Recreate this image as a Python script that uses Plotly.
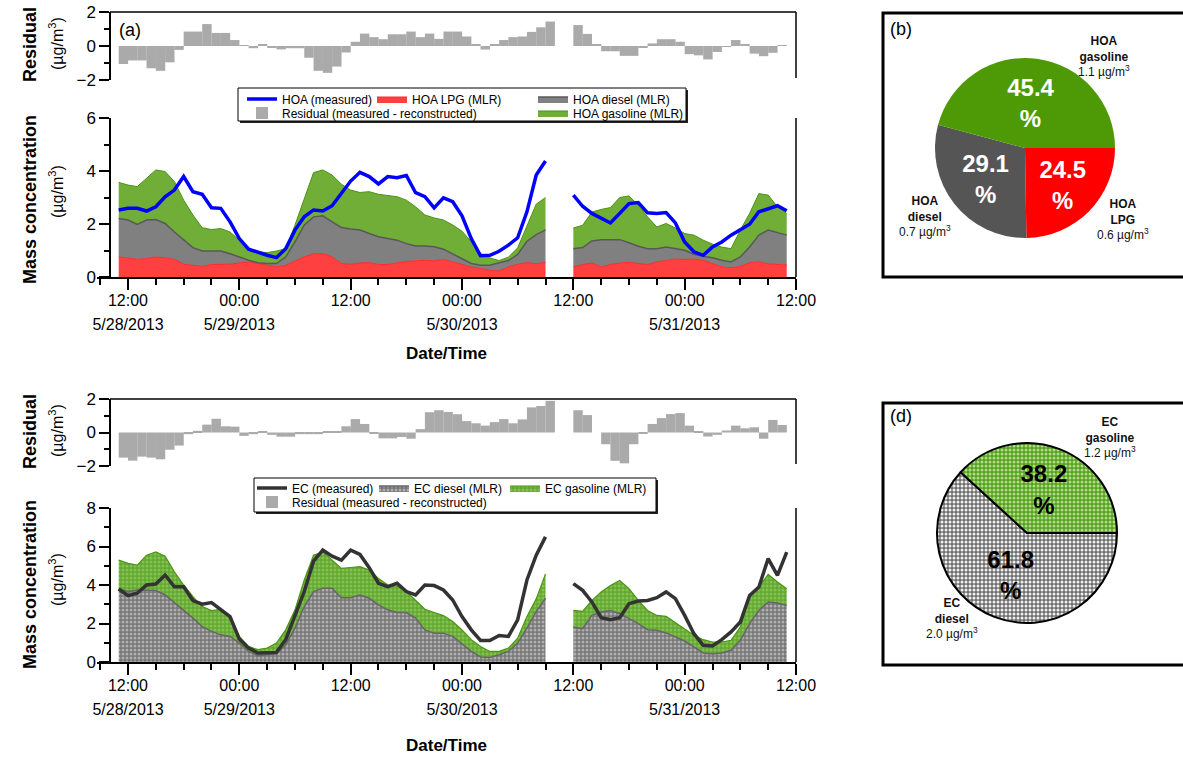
import pandas as pd
import plotly.graph_objects as go

W, H = 1183, 757
FONT = "Liberation Sans, Arial, sans-serif"

# ---------------- data ----------------
t_seg1 = pd.date_range("2013-05-28 11:00", periods=47, freq="h")
t_seg2 = pd.date_range("2013-05-30 12:00", periods=24, freq="h")
t_res2 = t_seg2[:23]

tick_times = pd.date_range("2013-05-28 12:00", periods=7, freq="12h")
tick_labels = [["12:00", "5/28/2013"], ["00:00", "5/29/2013"], ["12:00"],
               ["00:00", "5/30/2013"], ["12:00"], ["00:00", "5/31/2013"], ["12:00"]]

# HOA panel (a) -- segment 1 (stack tops)
hoa_measured_1 = [2.53, 2.59, 2.59, 2.49, 2.65, 3.03, 3.28, 3.79, 3.22, 3.12, 2.61, 2.59, 2.08, 1.45,
                  1.05, 0.92, 0.82, 0.73, 1.07, 1.77, 2.27, 2.53, 2.49, 2.69, 3.16, 3.62, 3.95, 3.79,
                  3.51, 3.79, 3.75, 3.83, 3.18, 3.03, 2.61, 2.99, 2.84, 2.31, 1.45, 0.80, 0.82, 0.97,
                  1.20, 1.48, 2.46, 3.85, 4.38]
hoa_gasoline_top_1 = [3.57, 3.47, 3.41, 3.72, 4.04, 3.98, 3.60, 2.90, 2.34, 1.86, 1.79, 1.83, 1.70, 1.39,
                      1.07, 0.95, 0.92, 0.98, 1.07, 1.96, 2.97, 3.94, 4.04, 3.85, 3.50, 3.28, 3.19, 3.22,
                      3.12, 3.07, 3.03, 2.90, 2.65, 2.34, 2.23, 2.15, 1.96, 1.73, 1.33, 0.88, 0.72, 0.62,
                      0.75, 1.10, 1.90, 2.75, 3.00]
hoa_diesel_top_1 = [2.21, 2.15, 1.98, 2.15, 2.17, 2.02, 1.70, 1.39, 1.11, 0.98, 0.97, 0.98, 0.88, 0.76,
                    0.63, 0.54, 0.51, 0.51, 0.76, 1.33, 1.96, 2.27, 2.31, 2.08, 1.87, 1.81, 1.77, 1.64,
                    1.52, 1.45, 1.39, 1.26, 1.17, 1.17, 1.14, 1.05, 0.88, 0.69, 0.51, 0.44, 0.44, 0.54,
                    0.62, 0.85, 1.35, 1.60, 1.78]
hoa_lpg_1 = [0.76, 0.72, 0.67, 0.69, 0.76, 0.72, 0.67, 0.48, 0.44, 0.40, 0.47, 0.47, 0.48, 0.53,
             0.57, 0.51, 0.44, 0.38, 0.44, 0.61, 0.76, 0.88, 0.88, 0.76, 0.51, 0.48, 0.53, 0.54,
             0.47, 0.47, 0.54, 0.59, 0.61, 0.63, 0.61, 0.66, 0.57, 0.47, 0.38, 0.32, 0.25, 0.23,
             0.38, 0.48, 0.54, 0.50, 0.55]
hoa_residual_1 = [-1.06, -0.85, -0.85, -1.31, -1.46, -0.96, -0.23, 0.85, 0.85, 1.29, 0.77, 0.77, 0.35, 0.04,
                  -0.13, 0.08, -0.10, -0.20, -0.13, -0.13, -0.69, -1.46, -1.58, -1.21, -0.38, 0.25, 0.73,
                  0.52, 0.40, 0.69, 0.69, 0.85, 0.52, 0.73, 0.42, 0.85, 0.85, 0.56, 0.10, -0.21, 0.10,
                  0.35, 0.52, 0.56, 0.83, 1.10, 1.44]
# HOA panel (a) -- segment 2
hoa_measured_2 = [3.09, 2.67, 2.40, 2.21, 2.04, 2.40, 2.77, 2.81, 2.42, 2.40, 2.43, 2.04, 1.32, 0.95,
                  0.82, 1.13, 1.32, 1.58, 1.77, 1.99, 2.46, 2.59, 2.69, 2.50]
hoa_gasoline_top_2 = [1.85, 1.95, 2.45, 2.55, 2.62, 3.00, 3.06, 2.71, 2.27, 1.89, 2.02, 1.85, 1.64, 1.58,
                      1.39, 1.24, 1.13, 1.07, 1.77, 2.40, 3.15, 3.09, 2.65, 2.40]
hoa_diesel_top_2 = [1.07, 1.11, 1.36, 1.41, 1.41, 1.41, 1.29, 1.16, 1.07, 1.07, 1.13, 1.07, 1.01, 0.86,
                    0.78, 0.73, 0.63, 0.57, 0.76, 1.13, 1.58, 1.77, 1.68, 1.58]
hoa_lpg_2 = [0.38, 0.47, 0.53, 0.38, 0.47, 0.53, 0.55, 0.50, 0.47, 0.57, 0.63, 0.68, 0.66, 0.68,
             0.63, 0.50, 0.38, 0.35, 0.40, 0.54, 0.57, 0.50, 0.47, 0.45]
hoa_residual_2 = [1.23, 0.71, 0.10, -0.31, -0.31, -0.58, -0.58, -0.06, 0.15, 0.40, 0.40, 0.25, -0.48,
                  -0.55, -0.79, -0.35, -0.05, 0.35, 0.10, -0.45, -0.60, -0.40, 0.05]

# EC panel -- segment 1
ec_measured_1 = [3.79, 3.45, 3.57, 4.00, 4.05, 4.52, 3.91, 3.91, 3.19, 3.00, 3.09, 2.74, 2.36, 1.19,
                 0.72, 0.47, 0.50, 0.50, 1.16, 2.36, 3.66, 5.24, 5.81, 5.50, 5.29, 5.81, 5.59, 4.90,
                 4.09, 3.91, 4.09, 3.66, 3.48, 4.00, 3.97, 3.74, 3.22, 2.36, 1.67, 1.12, 1.12, 1.38,
                 1.33, 2.19, 4.26, 5.55, 6.50]
ec_gasoline_top_1 = [5.29, 5.12, 5.03, 5.55, 5.72, 5.50, 4.69, 4.00, 3.40, 2.88, 2.67, 2.74, 2.36, 1.33,
                     0.81, 0.64, 0.72, 0.98, 1.67, 2.71, 4.26, 5.55, 5.72, 5.29, 4.86, 4.91, 4.95, 4.78,
                     4.34, 4.00, 3.95, 3.66, 3.19, 2.74, 2.57, 2.41, 2.10, 1.67, 1.16, 0.81, 0.55, 0.55,
                     0.72, 1.24, 2.36, 3.28, 4.57]
ec_diesel_top_1 = [3.79, 3.66, 3.74, 3.74, 3.71, 3.48, 3.09, 2.71, 2.28, 1.84, 1.59, 1.41, 1.33, 0.98,
                   0.55, 0.33, 0.38, 0.43, 0.90, 1.76, 2.88, 3.66, 3.83, 3.83, 3.34, 3.34, 3.48, 3.31,
                   2.97, 2.71, 2.57, 2.57, 2.28, 1.67, 1.50, 1.50, 1.33, 0.95, 0.55, 0.26, 0.24, 0.38,
                   0.55, 0.98, 1.76, 2.62, 3.31]
ec_residual_1 = [-1.50, -1.68, -1.44, -1.50, -1.60, -1.03, -0.78, -0.10, 0.10, 0.47, 0.82, 0.37, 0.35,
                 -0.20, -0.10, 0.06, -0.14, -0.25, -0.25, -0.10, -0.10, -0.10, 0.06, 0.04, 0.37, 0.80,
                 0.51, -0.06, -0.35, -0.35, -0.27, -0.37, 0.20, 1.21, 1.33, 1.23, 1.09, 0.68, 0.55,
                 0.41, 0.62, 0.80, 0.55, 0.78, 1.50, 1.58, 1.89]
# EC panel -- segment 2
ec_measured_2 = [4.07, 3.72, 3.12, 2.30, 2.20, 2.30, 3.03, 3.17, 3.20, 3.34, 3.64, 3.29, 2.42, 1.47,
                 0.87, 0.83, 1.16, 1.56, 2.08, 3.46, 3.90, 5.37, 4.50, 5.71]
ec_gasoline_top_2 = [2.68, 2.63, 3.20, 3.64, 3.98, 4.24, 3.81, 3.20, 2.68, 2.42, 2.37, 2.03, 1.73, 1.39,
                     1.16, 1.04, 1.04, 1.13, 1.82, 3.38, 3.90, 4.55, 4.16, 3.81]
ec_diesel_top_2 = [1.82, 1.73, 2.42, 2.60, 2.68, 2.51, 2.25, 1.99, 1.68, 1.65, 1.51, 1.30, 1.09, 0.78,
                   0.47, 0.43, 0.47, 0.61, 1.13, 1.99, 2.68, 3.12, 3.06, 2.94]
ec_residual_2 = [1.33, 1.04, 0.00, -0.70, -1.69, -1.84, -0.70, -0.08, 0.51, 0.86, 1.10, 1.16, 0.41,
                 0.08, -0.24, -0.14, 0.12, 0.41, 0.25, 0.31, -0.37, 0.75, 0.45]

# pies
pie_b_names = [["HOA", "LPG"], ["HOA", "diesel"], ["HOA", "gasoline"]]
pie_b_pct = [24.5, 29.1, 45.4]
pie_b_conc = ["0.6", "0.7", "1.1"]
pie_d_names = [["EC", "diesel"], ["EC", "gasoline"]]
pie_d_pct = [61.8, 38.2]
pie_d_conc = ["2.0", "1.2"]

# ---------------- styling / geometry ----------------
RED, GRAY, GREEN = "#ff0000", "#555555", "#4e9a06"
RES_GRAY = "#aaaaaa"


def fx(px):
    return px / W


def fy(py):
    return 1 - py / H


base = pd.Timestamp("2013-05-28 12:00")
x_range = [base + pd.Timedelta(hours=-3.34), base + pd.Timedelta(hours=72.0)]
X_DOM = [fx(97), fx(796)]
Y_AX_POS = fx(110)

panels = {  # pixel top / bottom of each panel
    "res_a": (12, 80), "main_a": (118, 277), "res_c": (399, 466), "main_c": (508, 662)}

fig = go.Figure()

# ----- residual bars -----
fig.add_trace(go.Bar(x=list(t_seg1) + list(t_res2), y=hoa_residual_1 + hoa_residual_2,
                     width=3.65e6, offset=0, marker=dict(color=RES_GRAY, line=dict(width=0)),
                     name="Residual (measured - reconstructed)", legend="legend4",
                     xaxis="x", yaxis="y", hoverinfo="skip"))
fig.add_trace(go.Bar(x=list(t_seg1) + list(t_res2), y=ec_residual_1 + ec_residual_2,
                     width=3.65e6, offset=0, marker=dict(color=RES_GRAY, line=dict(width=0)),
                     name="Residual (measured - reconstructed)", legend="legend9",
                     xaxis="x3", yaxis="y3", hoverinfo="skip"))

# ----- HOA stacked areas -----
for i, (t, lpg, dsl, gas) in enumerate([(t_seg1, hoa_lpg_1, hoa_diesel_top_1, hoa_gasoline_top_1),
                                         (t_seg2, hoa_lpg_2, hoa_diesel_top_2, hoa_gasoline_top_2)]):
    fig.add_trace(go.Scatter(x=t, y=lpg, mode="lines", fill="tozeroy",
                             fillcolor="rgba(255,0,0,0.75)", line=dict(color="#ff2a2a", width=1),
                             name="HOA LPG (MLR)", legend="legend2", showlegend=(i == 0),
                             xaxis="x2", yaxis="y2", hoverinfo="skip"))
    fig.add_trace(go.Scatter(x=t, y=dsl, mode="lines", fill="tonexty",
                             fillcolor="rgba(85,85,85,0.75)", line=dict(color="#585858", width=1.5),
                             name="HOA diesel (MLR)", legend="legend3", showlegend=(i == 0),
                             xaxis="x2", yaxis="y2", hoverinfo="skip"))
    fig.add_trace(go.Scatter(x=t, y=gas, mode="lines", fill="tonexty",
                             fillcolor="rgba(78,154,6,0.8)", line=dict(color="#4a9410", width=1),
                             name="HOA gasoline (MLR)", legend="legend5", showlegend=(i == 0),
                             xaxis="x2", yaxis="y2", hoverinfo="skip"))
for i, (t, m) in enumerate([(t_seg1, hoa_measured_1), (t_seg2, hoa_measured_2)]):
    fig.add_trace(go.Scatter(x=t, y=m, mode="lines", line=dict(color="#0000ff", width=3.5),
                             name="HOA (measured)", legend="legend", showlegend=(i == 0),
                             xaxis="x2", yaxis="y2", hoverinfo="skip"))

# ----- EC stacked areas -----
for i, (t, dsl, gas) in enumerate([(t_seg1, ec_diesel_top_1, ec_gasoline_top_1),
                                    (t_seg2, ec_diesel_top_2, ec_gasoline_top_2)]):
    fig.add_trace(go.Scatter(x=t, y=dsl, mode="lines", fill="tozeroy",
                             fillpattern=dict(shape=".", bgcolor="#767676", fgcolor="#e8e8e8",
                                              size=4, solidity=0.45),
                             line=dict(color="#666666", width=1.5),
                             name="EC diesel (MLR)", legend="legend7", showlegend=(i == 0),
                             xaxis="x4", yaxis="y4", hoverinfo="skip"))
    fig.add_trace(go.Scatter(x=t, y=gas, mode="lines", fill="tonexty",
                             fillpattern=dict(shape=".", bgcolor="#62a82e", fgcolor="#a6d77e",
                                              size=4, solidity=0.45),
                             line=dict(color="#4a9410", width=1.2),
                             name="EC gasoline (MLR)", legend="legend8", showlegend=(i == 0),
                             xaxis="x4", yaxis="y4", hoverinfo="skip"))
for i, (t, m) in enumerate([(t_seg1, ec_measured_1), (t_seg2, ec_measured_2)]):
    fig.add_trace(go.Scatter(x=t, y=m, mode="lines", line=dict(color="#333333", width=3.5),
                             name="EC (measured)", legend="legend6", showlegend=(i == 0),
                             xaxis="x4", yaxis="y4", hoverinfo="skip"))

# ----- pies -----
PB = (1025, 148, 90)
PD = (1027, 533, 90)
fig.add_trace(go.Pie(values=pie_b_pct, labels=[" ".join(n) for n in pie_b_names],
                     text=[f"{v}<br>%" for v in pie_b_pct], textinfo="text", textposition="inside",
                     insidetextorientation="horizontal",
                     insidetextfont=dict(family=FONT, size=24, color="white", weight="bold"),
                     marker=dict(colors=[RED, GRAY, GREEN], line=dict(width=0)),
                     sort=False, direction="clockwise", rotation=90, showlegend=False,
                     hoverinfo="skip",
                     domain=dict(x=[fx(PB[0] - PB[2]), fx(PB[0] + PB[2])],
                                 y=[fy(PB[1] + PB[2]), fy(PB[1] - PB[2])])))
fig.add_trace(go.Pie(values=pie_d_pct, labels=[" ".join(n) for n in pie_d_names],
                     text=[f"{v}<br>%" for v in pie_d_pct], textinfo="text", textposition="inside",
                     insidetextorientation="horizontal",
                     insidetextfont=dict(family=FONT, size=24, color="black", weight="bold"),
                     marker=dict(colors=["#777777", "#5aa02c"],
                                 pattern=dict(shape=[".", "."], bgcolor=["#6e6e6e", "#55a01e"],
                                              fgcolor=["#f0f0f0", "#b0de88"], size=4, solidity=0.45),
                                 line=dict(color="black", width=2)),
                     sort=False, direction="clockwise", rotation=90, showlegend=False,
                     hoverinfo="skip",
                     domain=dict(x=[fx(PD[0] - PD[2]), fx(PD[0] + PD[2])],
                                 y=[fy(PD[1] + PD[2]), fy(PD[1] - PD[2])])))

# ----- axes -----
AX = dict(color="black", linecolor="black", linewidth=1.5, showgrid=False, zeroline=False,
          tickfont=dict(family=FONT, size=17, color="black"), automargin=False)
SPAN = '<span style="font-size:16px">{}</span>'
ticktext = ["<br>".join(SPAN.format(s) for s in lab) for lab in tick_labels]


def xaxis_main(anchor, standoff):
    return dict(AX, domain=X_DOM, range=x_range, type="date", anchor=anchor, showline=True,
                ticks="outside", ticklen=11, tickwidth=1.5, tickcolor="black",
                tickvals=list(tick_times), ticktext=ticktext, ticklabelstandoff=-7,
                tickfont=dict(family=FONT, size=19, color="black"),
                minor=dict(ticks="outside", ticklen=6, tickwidth=1.5, tickcolor="black",
                           tick0=base, dtick=3 * 3600000),
                title=dict(text="<b>Date/Time</b>", font=dict(family=FONT, size=17, color="black"),
                           standoff=standoff))


def xaxis_res():
    return dict(AX, domain=X_DOM, range=x_range, type="date", visible=False)


def yaxis(panel, rng, tickvals):
    top, bot = panels[panel]
    return dict(AX, domain=[fy(bot), fy(top)], range=rng, anchor="free", position=Y_AX_POS,
                showline=True, ticks="outside", ticklen=10, tickwidth=1.5, tickcolor="black",
                tickvals=tickvals,
                minor=dict(ticks="outside", ticklen=5, tickwidth=1.5, tickcolor="black", dtick=1))


fig.update_layout(
    xaxis=xaxis_res(), xaxis2=xaxis_main("y2", 15), xaxis3=xaxis_res(), xaxis4=xaxis_main("y4", 22),
    yaxis=yaxis("res_a", [-2, 2], [-2, 0, 2]),
    yaxis2=yaxis("main_a", [0, 6], [0, 2, 4, 6]),
    yaxis3=yaxis("res_c", [-2, 2], [-2, 0, 2]),
    yaxis4=yaxis("main_c", [0, 8], [0, 2, 4, 6, 8]),
)

# ----- frame lines & boxes (shapes) -----
shapes = []
for res, main in [("res_a", "main_a"), ("res_c", "main_c")]:
    rt, rb = panels[res]
    mt, mb = panels[main]
    shapes.append(dict(type="line", xref="paper", yref="paper", x0=fx(110), x1=fx(796),
                       y0=fy(rt), y1=fy(rt), line=dict(color="black", width=1.5)))
    shapes.append(dict(type="line", xref="paper", yref="paper", x0=fx(796), x1=fx(796),
                       y0=fy(rt), y1=fy(rb - 2), line=dict(color="black", width=1.5)))
    shapes.append(dict(type="line", xref="paper", yref="paper", x0=fx(796), x1=fx(796),
                       y0=fy(mt), y1=fy(mb), line=dict(color="black", width=1.5)))

for (x0, y0, x1, y1) in [(238, 88, 686, 121), (254, 478, 656, 512)]:
    shapes.append(dict(type="rect", xref="paper", yref="paper", x0=fx(x0 + 2), x1=fx(x1 + 2),
                       y0=fy(y0 + 2), y1=fy(y1 + 2), fillcolor="#222222", line=dict(width=0)))
    shapes.append(dict(type="rect", xref="paper", yref="paper", x0=fx(x0), x1=fx(x1),
                       y0=fy(y0), y1=fy(y1), fillcolor="white", line=dict(color="black", width=1)))

for (x0, y0, x1, y1) in [(883, 13, 1190, 277), (883, 403, 1190, 665)]:
    shapes.append(dict(type="rect", xref="paper", yref="paper", x0=fx(x0), x1=fx(x1),
                       y0=fy(y0), y1=fy(y1), line=dict(color="black", width=3)))

# ----- legends (one per item, placed like the original boxes) -----
leg_pos = {"legend": (282, 99), "legend2": (412, 99), "legend3": (573, 99),
           "legend4": (282, 113), "legend5": (573, 113),
           "legend6": (292, 488), "legend7": (414, 488), "legend8": (545, 488),
           "legend9": (292, 502)}
legends = {}
for k, (tx, ty) in leg_pos.items():
    legends[k] = dict(x=fx(tx - 40), y=fy(ty), xanchor="left", yanchor="middle",
                      orientation="h", bgcolor="rgba(0,0,0,0)", borderwidth=0,
                      font=dict(family=FONT, size=12, color="black"), itemwidth=30)
fig.update_layout(**legends)

# ----- annotations -----
ann = []
for txt, x, y in [("(a)", 117, 30), ("(b)", 888, 29), ("(d)", 888, 416)]:
    ann.append(dict(text=txt, x=fx(x), y=fy(y), xref="paper", yref="paper", xanchor="left",
                    yanchor="middle", showarrow=False, font=dict(family=FONT, size=18, color="black")))

# y-axis titles (two lines each, rotated)
for txt, x, y, size in [("<b>Residual</b>", 30, 45, 18), ("(µg/m<sup>3</sup>)", 56, 44, 16),
                        ("<b>Mass concentration</b>", 30, 200, 18), ("(µg/m<sup>3</sup>)", 56, 192, 16),
                        ("<b>Residual</b>", 30, 432, 18), ("(µg/m<sup>3</sup>)", 56, 431, 16),
                        ("<b>Mass concentration</b>", 30, 585, 18), ("(µg/m<sup>3</sup>)", 56, 580, 16)]:
    ann.append(dict(text=txt, x=fx(x), y=fy(y), xref="paper", yref="paper", xanchor="center",
                    yanchor="middle", textangle=-90, showarrow=False,
                    font=dict(family=FONT, size=size, color="black")))

pie_label_pos_b = [(1123, 219), (925, 217), (1104, 57)]
pie_label_pos_d = [(952, 618), (1110, 437)]
for names, concs, poss in [(pie_b_names, pie_b_conc, pie_label_pos_b),
                           (pie_d_names, pie_d_conc, pie_label_pos_d)]:
    for n, c, (x, y) in zip(names, concs, poss):
        ann.append(dict(text=f"<b>{n[0]}</b><br><b>{n[1]}</b><br>{c} µg/m<sup>3</sup>",
                        x=fx(x), y=fy(y), xref="paper", yref="paper", xanchor="center",
                        yanchor="middle", showarrow=False, align="center",
                        font=dict(family=FONT, size=12, color="#111111")))

fig.update_layout(
    width=W, height=H, margin=dict(l=0, r=0, t=0, b=0),
    plot_bgcolor="white", paper_bgcolor="white",
    font=dict(family=FONT, color="black"),
    barmode="overlay", hovermode=False,
    shapes=shapes, annotations=ann,
)

fig.write_html("out.html")
